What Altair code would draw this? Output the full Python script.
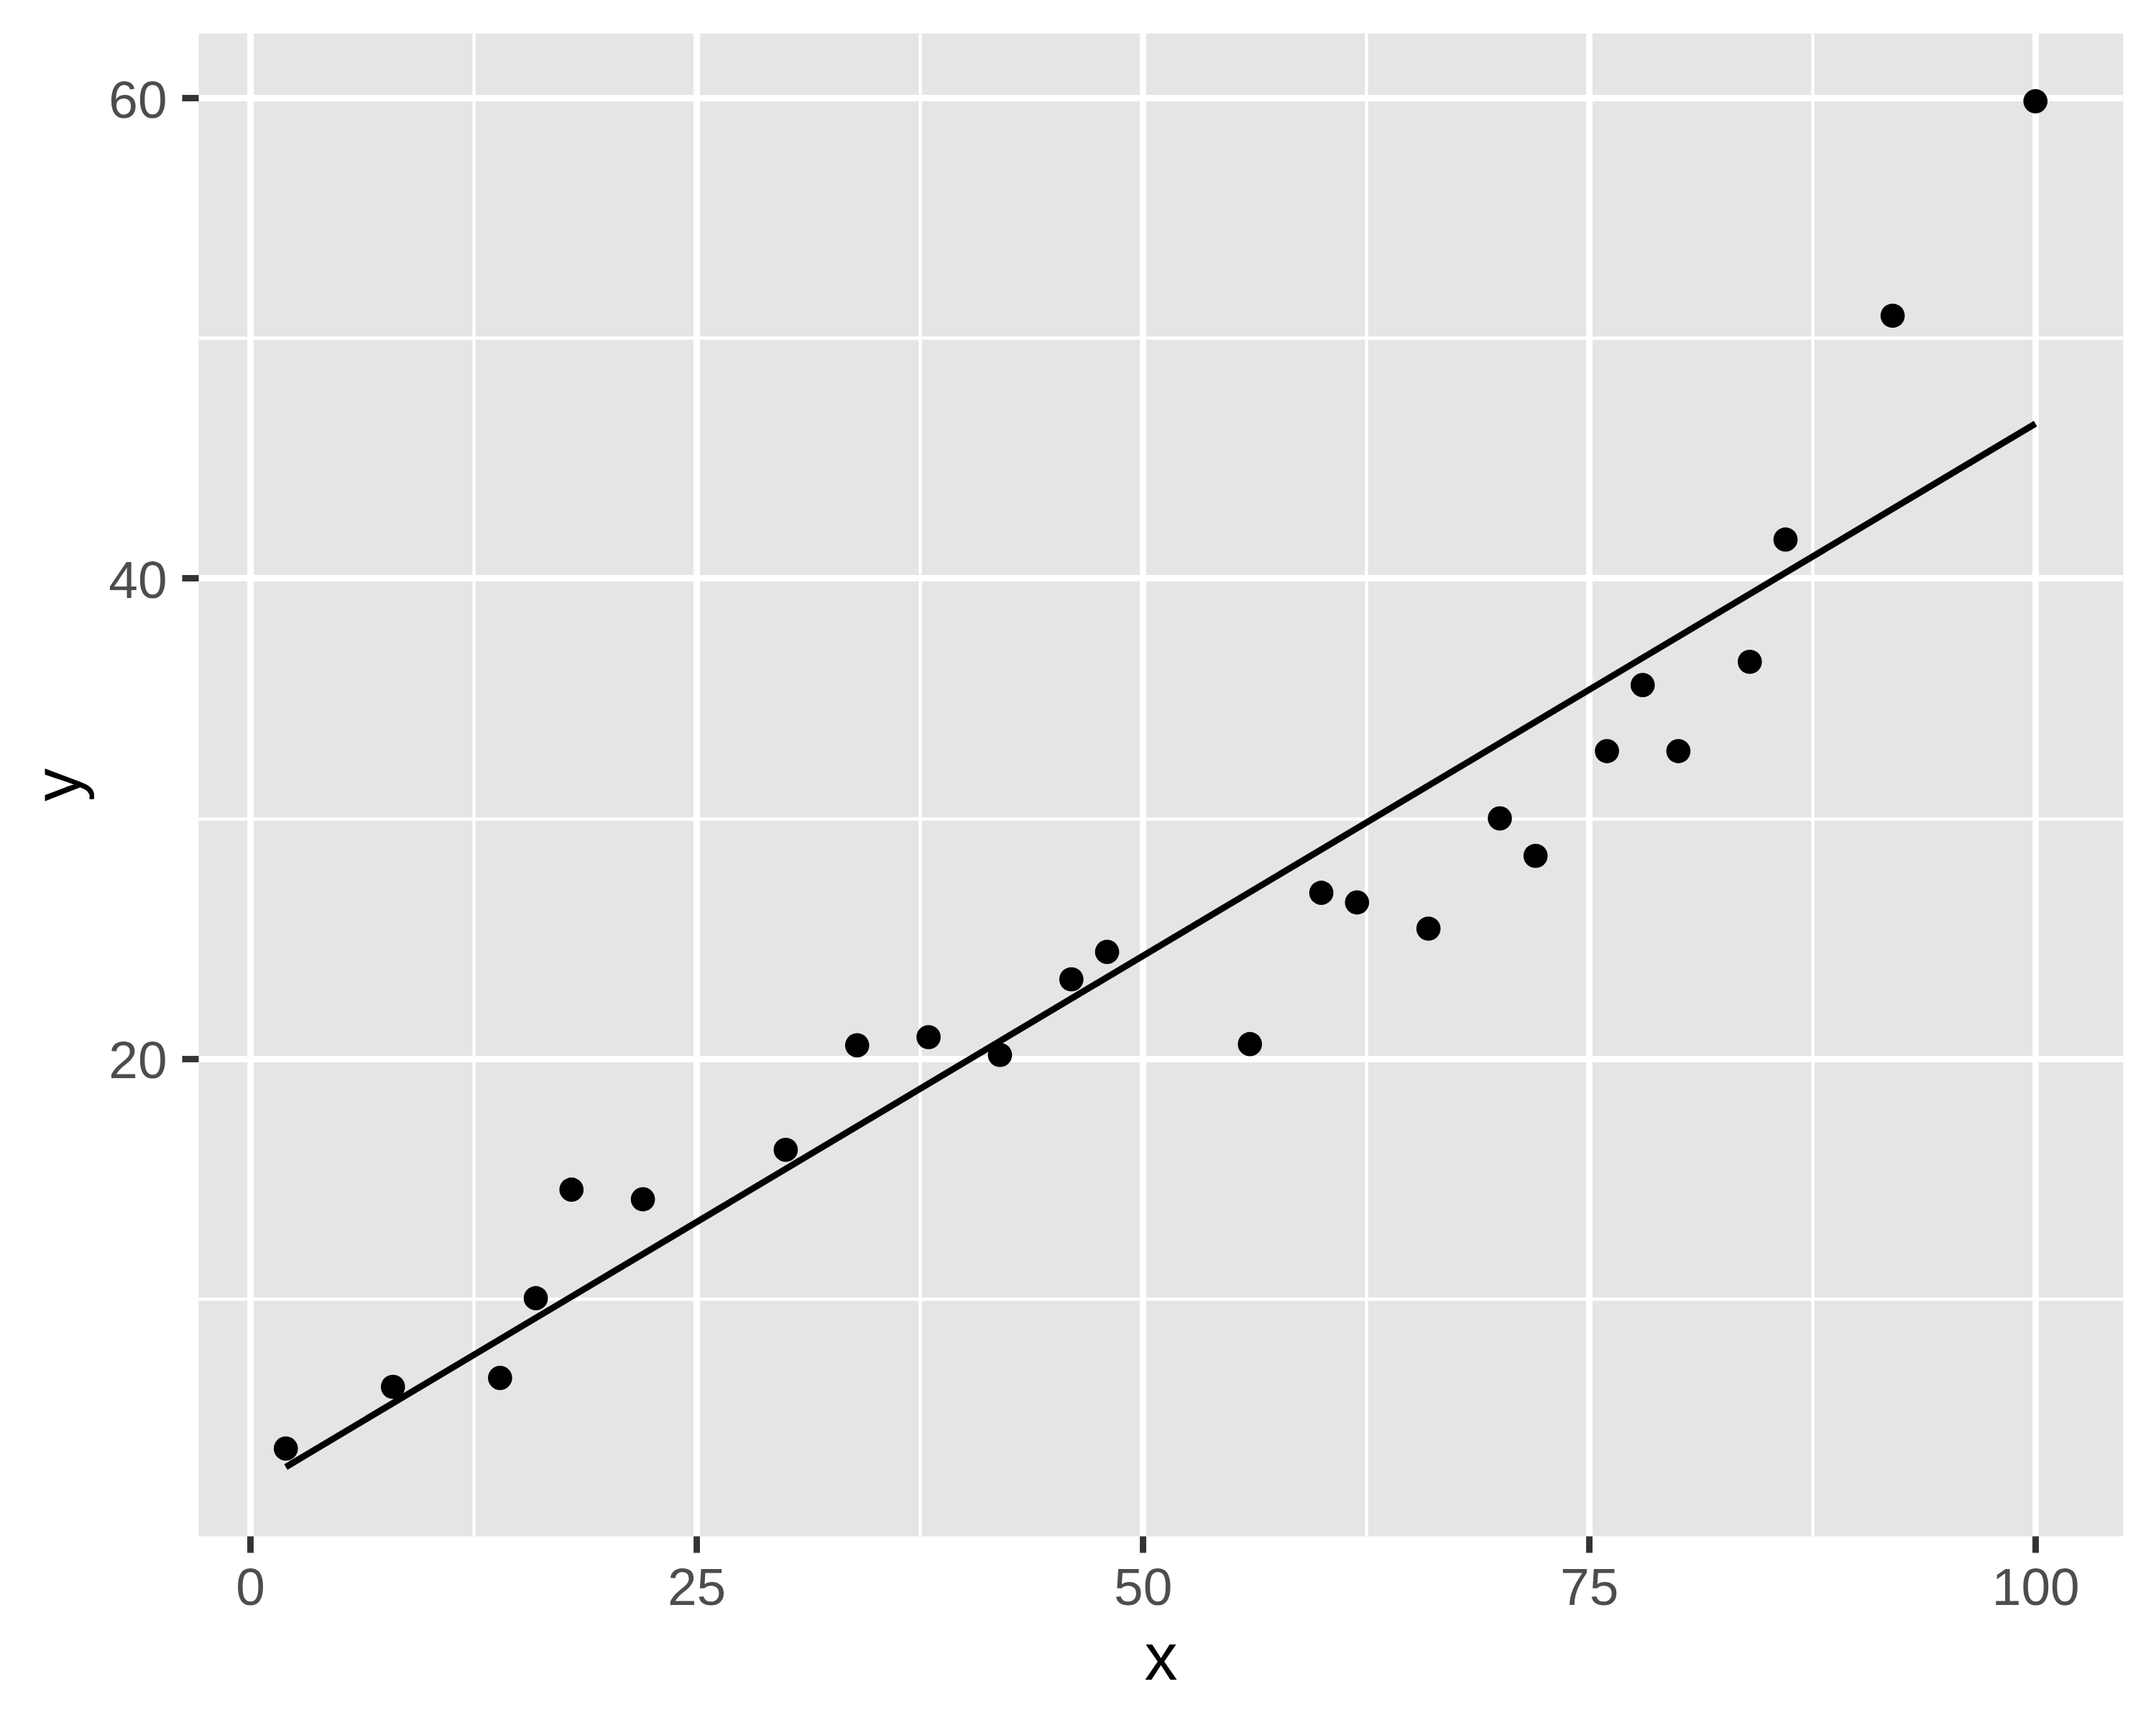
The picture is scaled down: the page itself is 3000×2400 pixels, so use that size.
import altair as alt
import pandas as pd

# data
x_vals = [2, 8, 14, 16, 18, 22, 30, 34, 38, 42, 46, 48, 56, 60, 62, 66, 70, 72, 76, 78, 80, 84, 86, 92, 100]
y_vals = [3.76, 6.33, 6.70, 10.02, 14.54, 14.14, 16.20, 20.55, 20.89, 20.15, 23.30, 24.44, 20.60,
          26.90, 26.50, 25.41, 30.00, 28.44, 32.80, 35.55, 32.80, 36.52, 41.61, 50.93, 59.86]
x_ticks = [0, 12.5, 25, 37.5, 50, 62.5, 75, 87.5, 100]
y_ticks = [10, 20, 30, 40, 50, 60]

df = pd.DataFrame({"x": x_vals, "y": y_vals})

FONT = "Liberation Sans"
MAJOR_W = 8.9
MINOR_W = 4.4

x_scale = alt.Scale(domain=[-2.9, 104.9], nice=False, zero=False)
y_scale = alt.Scale(domain=[0.12, 62.7], nice=False, zero=False)

x_axis = alt.Axis(
    values=x_ticks,
    title="x",
    grid=True,
    gridColor="white",
    gridWidth={"condition": {"test": "datum.value % 25 === 0", "value": MAJOR_W}, "value": MINOR_W},
    domain=False,
    ticks=True,
    tickSize=23,
    tickWidth=MAJOR_W,
    tickColor="#333333",
    tickOpacity={"condition": {"test": "datum.value % 25 === 0", "value": 1}, "value": 0},
    labelExpr="datum.value % 25 === 0 ? datum.label : ''",
    labelFont=FONT,
    labelFontSize=73,
    labelColor="#4D4D4D",
    labelPadding=14,
    labelBaseline="top",
    labelFlush=False,
    labelOverlap=False,
    titleFont=FONT,
    titleFontSize=92,
    titleFontWeight="normal",
    titleColor="black",
    titleBaseline="alphabetic",
    titleY=199,
)

y_axis = alt.Axis(
    values=y_ticks,
    title="y",
    grid=True,
    gridColor="white",
    gridWidth={"condition": {"test": "datum.value % 20 === 0", "value": MAJOR_W}, "value": MINOR_W},
    domain=False,
    ticks=True,
    tickSize=23,
    tickWidth=MAJOR_W,
    tickColor="#333333",
    tickOpacity={"condition": {"test": "datum.value % 20 === 0", "value": 1}, "value": 0},
    labelExpr="datum.value % 20 === 0 ? datum.label : ''",
    labelFont=FONT,
    labelFontSize=73,
    labelColor="#4D4D4D",
    labelPadding=21,
    labelBaseline="middle",
    labelOffset=5,
    labelFlush=False,
    labelOverlap=False,
    titleFont=FONT,
    titleFontSize=92,
    titleFontWeight="normal",
    titleColor="black",
    titleBaseline="alphabetic",
    titleAngle=270,
    titleX=-165,
)

base = alt.Chart(df)

points = base.mark_circle(size=1134, color="black", opacity=1).encode(
    x=alt.X("x:Q", scale=x_scale, axis=x_axis),
    y=alt.Y("y:Q", scale=y_scale, axis=y_axis),
)

line = base.transform_regression("x", "y", method="linear").mark_line(
    color="black", strokeWidth=MAJOR_W
).encode(
    x=alt.X("x:Q", scale=x_scale),
    y=alt.Y("y:Q", scale=y_scale),
)

chart = alt.layer(points, line).properties(
    width=2678,
    height=2091,
    padding={"left": 268, "top": 38, "right": 38, "bottom": 255},
    autosize=alt.AutoSizeParams(type="none"),
    background="white",
).configure_view(
    fill="#E5E5E5",
    stroke="transparent",
)

chart.save("out.html", embed_options={"renderer": "svg", "actions": False})
